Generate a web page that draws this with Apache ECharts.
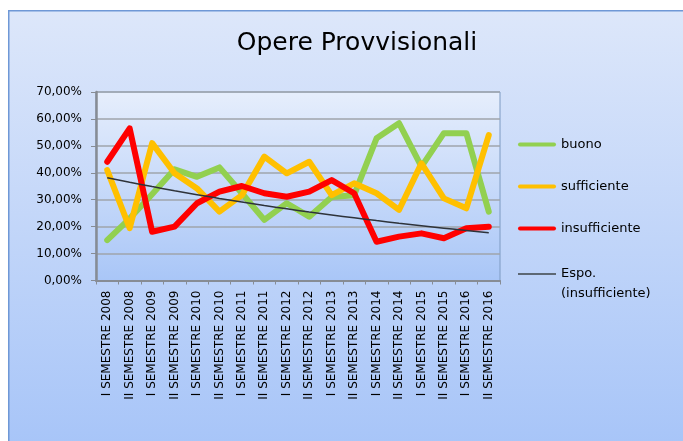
<!DOCTYPE html>
<html>
<head>
<meta charset="utf-8">
<title>Opere Provvisionali</title>
<script src="https://cdn.jsdelivr.net/npm/echarts@6/dist/echarts.min.js"></script>
<style>
  html, body { margin: 0; padding: 0; background: #fff; }
  #chart { width: 683px; height: 441px; }
</style>
</head>
<body>
<div id="chart"></div>
<script>
// categorie (semestri)
var categories = [
  'I SEMESTRE 2008', 'II SEMESTRE 2008', 'I SEMESTRE 2009', 'II SEMESTRE 2009',
  'I SEMESTRE 2010', 'II SEMESTRE 2010', 'I SEMESTRE 2011', 'II SEMESTRE 2011',
  'I SEMESTRE 2012', 'II SEMESTRE 2012', 'I SEMESTRE 2013', 'II SEMESTRE 2013',
  'I SEMESTRE 2014', 'II SEMESTRE 2014', 'I SEMESTRE 2015', 'II SEMESTRE 2015',
  'I SEMESTRE 2016', 'II SEMESTRE 2016'
];

// valori in percentuale
var buono = [15.0, 23.0, 32.0, 41.3, 38.5, 42.0, 32.4, 22.5, 28.7, 23.7, 31.0, 31.7, 52.8, 58.4, 42.3, 54.7, 54.7, 25.6];
var sufficiente = [41.0, 19.4, 51.0, 39.8, 34.2, 25.6, 31.7, 46.0, 39.8, 44.1, 31.7, 36.1, 32.4, 26.2, 43.5, 30.5, 26.8, 54.0];
var insufficiente = [44.1, 56.5, 18.1, 20.0, 28.7, 33.0, 35.1, 32.4, 31.1, 33.0, 37.3, 32.4, 14.4, 16.3, 17.5, 15.7, 19.4, 20.0];

// tacche asse y
var yTicks = [0, 10, 20, 30, 40, 50, 60, 70];

// linea di tendenza esponenziale (come Excel) calcolata su "insufficiente"
function expTrend(values) {
  var n = values.length, sx = 0, sy = 0, sxx = 0, sxy = 0;
  values.forEach(function (v, i) {
    var x = i + 1, y = Math.log(v);
    sx += x; sy += y; sxx += x * x; sxy += x * y;
  });
  var b = (n * sxy - sx * sy) / (n * sxx - sx * sx);
  var a = (sy - b * sx) / n;
  return values.map(function (v, i) { return +(Math.exp(a + b * (i + 1))).toFixed(2); });
}
var trend = expTrend(insufficiente);

var chart = echarts.init(document.getElementById('chart'));

var thick = function (color) {
  return { color: color, width: 6, cap: 'round', join: 'round' };
};
var pill = 'path://M2,5 L36,5 A2,2 0 0 1 36,9 L2,9 A2,2 0 0 1 2,5 Z';

var option = {
  animation: false,
  backgroundColor: '#ffffff',
  textStyle: { fontFamily: 'DejaVu Sans' },
  graphic: [{
    type: 'rect',
    left: 8, top: 10, z: -10,
    shape: { width: 690, height: 445 },
    style: {
      fill: new echarts.graphic.LinearGradient(0, 0, 0, 1, [
        { offset: 0, color: '#dde7fa' },
        { offset: 1, color: '#a6c4f8' }
      ]),
      stroke: '#6f98d6', lineWidth: 1.5
    }
  }],
  title: {
    text: 'Opere Provvisionali',
    left: 352, top: 26, textAlign: 'center',
    textStyle: { fontFamily: 'DejaVu Sans', fontSize: 25, fontWeight: 'normal', color: '#000' }
  },
  legend: [{
    // le tre serie principali
    orient: 'vertical',
    left: 513, top: 133,
    itemGap: 29,
    itemWidth: 38, itemHeight: 14,
    textStyle: { fontSize: 13, color: '#000' },
    data: [
      { name: 'buono', icon: pill },
      { name: 'sufficiente', icon: pill },
      { name: 'insufficiente', icon: pill }
    ]
  }, {
    // linea di tendenza: riga vuota iniziale per allineare "Espo." alla linea
    orient: 'vertical',
    left: 513, top: 239,
    itemWidth: 38, itemHeight: 14,
    textStyle: { fontSize: 13, color: '#000', lineHeight: 20 },
    formatter: function () { return '\u00a0\nEspo.\n(insufficiente)'; },
    data: [
      { name: 'Espo. (insufficiente)', icon: 'path://M1,6 L37,6 L37,8 L1,8 Z' }
    ]
  }],
  grid: {
    left: 96, right: 183, top: 92, bottom: 160.5,
    show: true,
    borderColor: '#7d9ac2', borderWidth: 1,
    backgroundColor: new echarts.graphic.LinearGradient(0, 0, 0, 1, [
      { offset: 0, color: '#e6eefc' },
      { offset: 1, color: '#a9c6f7' }
    ])
  },
  xAxis: {
    type: 'category',
    data: categories,
    boundaryGap: true,
    axisLine: { lineStyle: { color: '#878c94', width: 2 } },
    axisTick: { show: true, length: 4, lineStyle: { color: '#878c94' } },
    axisLabel: { rotate: 90, interval: 0, fontSize: 12, color: '#000', margin: 10 }
  },
  yAxis: {
    type: 'value',
    min: yTicks[0], max: yTicks[yTicks.length - 1], interval: 10,
    axisLine: { show: true, lineStyle: { color: '#878c94', width: 2.5 } },
    axisTick: { show: true, length: 5, lineStyle: { color: '#878c94' } },
    splitLine: { lineStyle: { color: '#9fa4ab', width: 1.5 } },
    axisLabel: {
      fontSize: 12, color: '#000', margin: 14,
      formatter: function (v) { return v.toFixed(2).replace('.', ',') + '%'; }
    }
  },
  series: [
    { name: 'buono', type: 'line', data: buono, symbol: 'none', lineStyle: thick('#92d050'), itemStyle: { color: '#92d050' } },
    { name: 'sufficiente', type: 'line', data: sufficiente, symbol: 'none', lineStyle: thick('#ffc000'), itemStyle: { color: '#ffc000' } },
    { name: 'insufficiente', type: 'line', data: insufficiente, symbol: 'none', lineStyle: thick('#ff0000'), itemStyle: { color: '#ff0000' } },
    { name: 'Espo. (insufficiente)', type: 'line', data: trend, symbol: 'none', smooth: true,
      lineStyle: { color: '#2e333a', width: 1.5 }, itemStyle: { color: '#5d6874' } }
  ]
};

chart.setOption(option);
</script>
</body>
</html>
